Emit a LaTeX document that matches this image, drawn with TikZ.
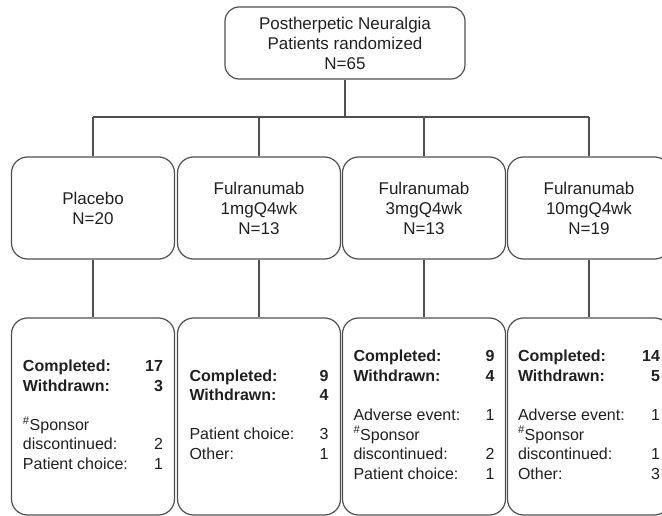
\documentclass[tikz,border=0pt]{standalone}
\usepackage{fontspec}
\setmainfont{Liberation Sans}
\usepackage{array}
\definecolor{linegray}{HTML}{505050}
\definecolor{textdark}{HTML}{202020}
\begin{document}
\begin{tikzpicture}[x=1pt,y=-1pt,
  box/.style={draw=linegray, line width=1.2pt, rounded corners=16pt, inner sep=0pt,
    text=textdark, align=center, font=\fontsize{17}{20}\selectfont},
  topbox/.style={box, rounded corners=14pt, minimum width=240pt, minimum height=72pt},
  armbox/.style={box, minimum width=163pt, minimum height=102pt},
  resbox/.style={box, minimum width=163pt, minimum height=197pt, font=\fontsize{16}{19.5}\selectfont},
  conn/.style={draw=linegray, line width=1.1pt}]
\useasboundingbox (0,0) rectangle (662,516);
\node[topbox] (top) at (345,43) {Postherpetic Neuralgia\\Patients randomized\\N=65};
\node[armbox] (g1) at (93,208) {Placebo\\N=20};
\node[armbox] (g2) at (259,208) {Fulranumab\\1mgQ4wk\\N=13};
\node[armbox] (g3) at (424,208) {Fulranumab\\3mgQ4wk\\N=13};
\node[armbox] (g4) at (589,208) {Fulranumab\\10mgQ4wk\\N=19};
\node[resbox] (r1) at (93,416.5) {\begin{tabular*}{140pt}{@{}l@{\extracolsep{\fill}}r@{}}
\textbf{Completed:} & \textbf{17}\\
\textbf{Withdrawn:} & \textbf{3}\\
 & \\
\textsuperscript{\#}Sponsor & \\
discontinued: & 2\\
Patient choice: & 1
\end{tabular*}};
\node[resbox] (r2) at (259,416.5) {\begin{tabular*}{139pt}{@{}l@{\extracolsep{\fill}}r@{}}
\textbf{Completed:} & \textbf{9}\\
\textbf{Withdrawn:} & \textbf{4}\\
 & \\
Patient choice: & 3\\
Other: & 1
\end{tabular*}};
\node[resbox] (r3) at (424,416.5) {\begin{tabular*}{141pt}{@{}l@{\extracolsep{\fill}}r@{}}
\textbf{Completed:} & \textbf{9}\\
\textbf{Withdrawn:} & \textbf{4}\\
 & \\
Adverse event: & 1\\
\textsuperscript{\#}Sponsor & \\
discontinued: & 2\\
Patient choice: & 1
\end{tabular*}};
\node[resbox] (r4) at (589,416.5) {\begin{tabular*}{142pt}{@{}l@{\extracolsep{\fill}}r@{}}
\textbf{Completed:} & \textbf{14}\\
\textbf{Withdrawn:} & \textbf{5}\\
 & \\
Adverse event: & 1\\
\textsuperscript{\#}Sponsor & \\
discontinued: & 1\\
Other: & 3
\end{tabular*}};
\coordinate (j1) at (93,117);
\coordinate (j4) at (589,117);
\coordinate (jt) at (top.south |- j1);
\draw[conn] (top.south) -- (jt);
\draw[conn] (j1) -- (j4);
\foreach \i in {1,2,3,4} {
  \draw[conn] (g\i.north |- j1) -- (g\i.north);
  \draw[conn] (g\i.south) -- (r\i.north);
}
\end{tikzpicture}
\end{document}
